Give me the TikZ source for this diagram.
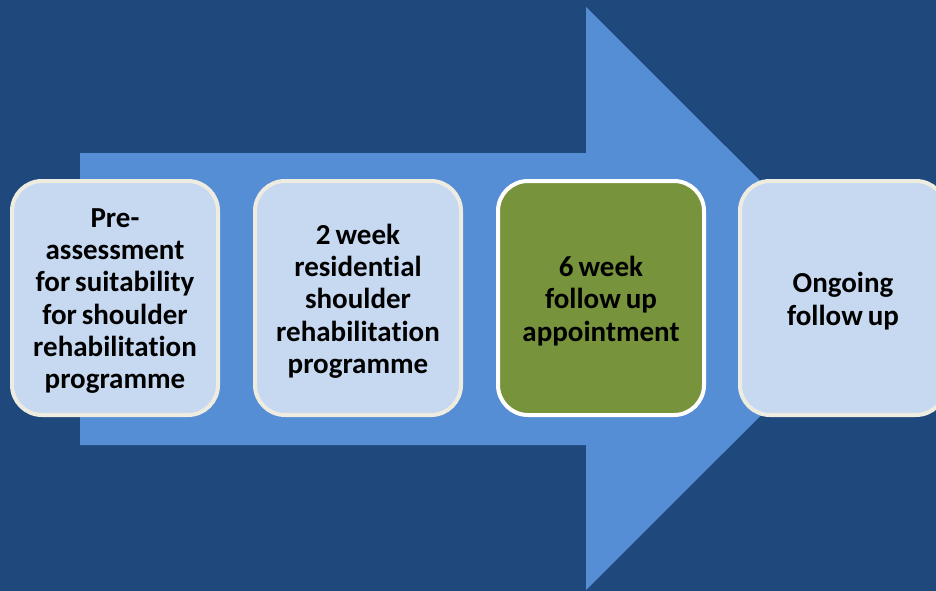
\documentclass[tikz,border=0pt]{standalone}
\usepackage{fontspec}
\setmainfont{Carlito}[Ligatures={NoCommon}]
\definecolor{bgblue}{HTML}{1F497D}
\definecolor{arrowblue}{HTML}{558ED5}
\definecolor{boxfill}{HTML}{C6D9F1}
\definecolor{boxedge}{HTML}{EEECE1}
\definecolor{boxgreen}{HTML}{77933C}
\newcommand\tightsp{\spaceskip=0.17em\relax}
\begin{document}
\begin{tikzpicture}[x=1pt,y=-1pt,
  stage/.style={draw=boxedge, fill=boxfill, line width=4pt, rounded corners=30pt,
    minimum width=206pt, minimum height=234pt, text width=196pt, align=center,
    font=\bfseries\fontsize{29}{32.3}\selectfont, inner sep=0pt},
  active/.style={stage, draw=white, fill=boxgreen},
  label/.style={stage, draw=none, fill=none}]
\useasboundingbox (0,0) rectangle (936,591);
\clip (0,0) rectangle (936,591);
\fill[bgblue] (0,0) rectangle (936,591);
\fill[arrowblue] (80,153) -- (586,153) -- (586,7) -- (878,298.5) -- (586,590) -- (586,445) -- (80,445) -- cycle;
\node[stage] (s1) at (115,298) {};
\node[stage] (s2) at (358,298) {};
\node[active] (s3) at (601,298) {};
\node[stage] (s4) at (843,298) {};
\node[label] (t1) at (115,301) {\tightsp Pre-\\assessment\\for suitability\\for shoulder\\rehabilitation\\programme};
\node[label] (t2) at (358,301) {\tightsp 2 week\\residential\\shoulder\\rehabilitation\\programme};
\node[label] (t3) at (601,301) {\tightsp 6 week\\follow up\\appointment};
\node[label] (t4) at (843,301) {\tightsp Ongoing\\follow up};
\end{tikzpicture}
\end{document}
